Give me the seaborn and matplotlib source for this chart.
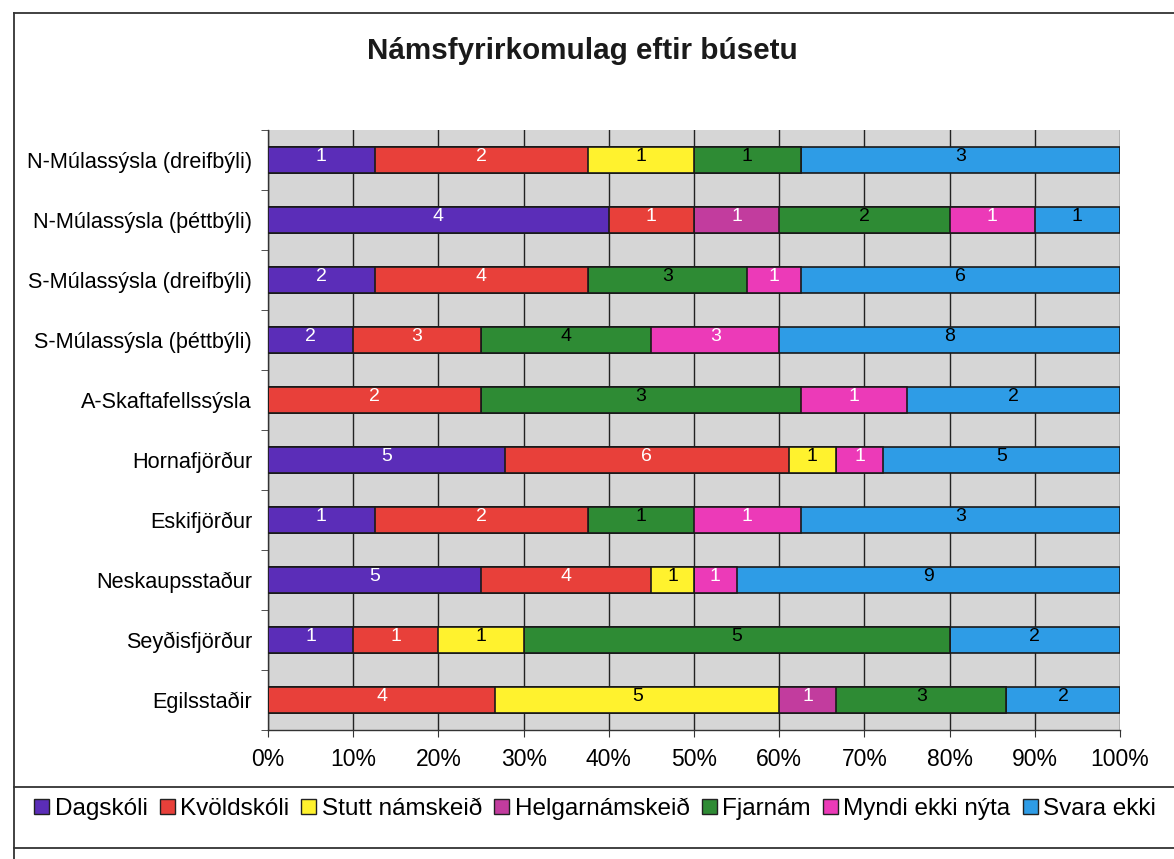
import numpy as np
import pandas as pd
import seaborn as sns
import matplotlib
matplotlib.use("Agg")
import matplotlib.pyplot as plt
from matplotlib.patches import Patch
from matplotlib.lines import Line2D

categories = ["N-Múlassýsla (dreifbýli)", "N-Múlassýsla (þéttbýli)",
              "S-Múlassýsla (dreifbýli)", "S-Múlassýsla (þéttbýli)",
              "A-Skaftafellssýsla", "Hornafjörður", "Eskifjörður",
              "Neskaupsstaður", "Seyðisfjörður", "Egilsstaðir"]
series_names = ["Dagskóli", "Kvöldskóli", "Stutt námskeið", "Helgarnámskeið",
                "Fjarnám", "Myndi ekki nýta", "Svara ekki"]
dagskoli        = [1, 4, 2, 2, 0, 5, 1, 5, 1, 0]
kvoldskoli      = [2, 1, 4, 3, 2, 6, 2, 4, 1, 4]
stutt_namskeid  = [1, 0, 0, 0, 0, 1, 0, 1, 1, 5]
helgarnamskeid  = [0, 1, 0, 0, 0, 0, 0, 0, 0, 1]
fjarnam         = [1, 2, 3, 4, 3, 0, 1, 0, 5, 3]
myndi_ekki_nyta = [0, 1, 1, 3, 1, 1, 1, 1, 0, 0]
svara_ekki      = [3, 1, 6, 8, 2, 5, 3, 9, 2, 2]
x_ticks = [0, 10, 20, 30, 40, 50, 60, 70, 80, 90, 100]

colors = ["#5B2DB8", "#E8403A", "#FFF22E", "#C23C9E", "#2E8B34", "#EC3AB8", "#2E9CE6"]
text_colors = ["white", "white", "black", "white", "black", "white", "black"]

plt.rcParams['font.family'] = ['Liberation Sans', 'DejaVu Sans']

counts = np.array([dagskoli, kvoldskoli, stutt_namskeid, helgarnamskeid,
                   fjarnam, myndi_ekki_nyta, svara_ekki], dtype=float)
totals = counts.sum(axis=0)
pct = counts / totals * 100
cum = np.cumsum(pct, axis=0)

fig = plt.figure(figsize=(11.74, 8.59), dpi=100)
ax = fig.add_axes([268/1174, 129/859, (1120-268)/1174, (730-130)/859])
ax.set_facecolor("#D6D6D6")

for i in range(len(series_names) - 1, -1, -1):
    df = pd.DataFrame({"cat": categories, "val": cum[i]})
    sns.barplot(data=df, x="val", y="cat", orient="h", color=colors[i],
                saturation=1, width=0.42, edgecolor="#1a1a1a", linewidth=1.2,
                ax=ax, zorder=3)

for i in range(len(series_names)):
    for j in range(len(categories)):
        if counts[i, j] > 0:
            xc = cum[i, j] - pct[i, j] / 2
            ax.text(xc, j - 0.06, f"{int(counts[i, j])}", ha="center", va="center",
                    color=text_colors[i], fontsize=14, zorder=5)

ax.set_xlim(0, 100)
ax.set_ylim(len(categories) - 0.5, -0.5)
ax.set_xticks(x_ticks)
ax.set_xticklabels([f"{t}%" for t in x_ticks], fontsize=16.5)
ax.set_yticks(range(len(categories)))
ax.set_yticklabels(categories, fontsize=15.6)
ax.set_yticks(np.arange(-0.5, len(categories) + 0.5, 1), minor=True)
ax.tick_params(axis="y", which="major", length=0, pad=11.5)
ax.tick_params(axis="y", which="minor", length=5, color="#333333")
ax.tick_params(axis="x", which="major", length=5, pad=8, color="#333333")
ax.set_xlabel("")
ax.set_ylabel("")
ax.xaxis.grid(True, color="#222222", linewidth=1.0, zorder=1)
ax.yaxis.grid(False)
ax.set_axisbelow(True)
for s in ["top", "right"]:
    ax.spines[s].set_visible(False)
for s in ["left", "bottom"]:
    ax.spines[s].set_color("#333333")
    ax.spines[s].set_linewidth(1.0)

fig.text(582/1174, 1 - 51/859, "Námsfyrirkomulag eftir búsetu", ha="center", va="center",
         fontsize=21.3, fontweight="bold", color="#1a1a1a")

# frame lines
def hline(y, x0=14, x1=1174):
    fig.add_artist(Line2D([x0/1174, x1/1174], [1 - y/859, 1 - y/859],
                          color="#333333", linewidth=1.3, transform=fig.transFigure))
hline(13)
hline(787)
hline(848)
fig.add_artist(Line2D([14/1174, 14/1174], [0, 1 - 13/859], color="#333333",
                      linewidth=1.3, transform=fig.transFigure))

handles = [Patch(facecolor=c, edgecolor="#222222", linewidth=1.0) for c in colors]
fig.legend(handles, series_names, loc="center", ncol=7,
           bbox_to_anchor=(595/1174, 1 - 809/859), frameon=False, fontsize=17.5,
           handlelength=0.62, handleheight=0.62, handletextpad=0.22,
           columnspacing=0.5, borderaxespad=0, borderpad=0)

fig.savefig("out.png", dpi=100, facecolor="white")
